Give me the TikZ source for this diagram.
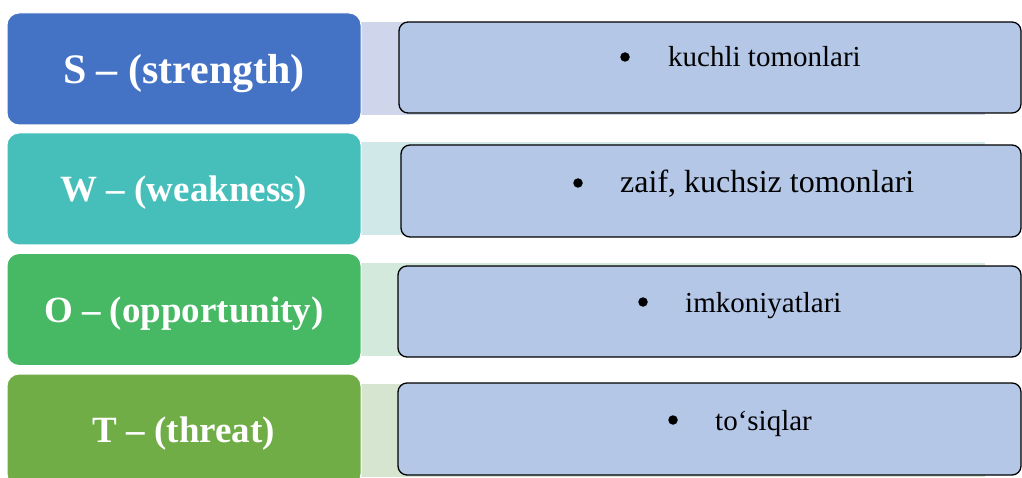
\documentclass[tikz,border=0pt]{standalone}
\usepackage{fontspec}
\setmainfont{Liberation Serif}
\newfontfamily\itemfont{Liberation Serif}
\definecolor{cS}{HTML}{4472C4}
\definecolor{cW}{HTML}{46BFBA}
\definecolor{cO}{HTML}{47B863}
\definecolor{cT}{HTML}{70AD47}
\definecolor{sS}{HTML}{CFD5EA}
\definecolor{sW}{HTML}{D1E8E9}
\definecolor{sO}{HTML}{D3E9DB}
\definecolor{sT}{HTML}{D6E5D0}
\definecolor{rfill}{HTML}{B4C7E7}
\begin{document}
\begin{tikzpicture}[x=1pt,y=-1pt,
  lbox/.style={rectangle, rounded corners=12pt, draw=white, line width=1pt,
    minimum width=354pt, minimum height=112pt, text=white, text depth=0pt,
    inner sep=0pt, font=\bfseries\fontsize{37}{40}\selectfont},
  strip/.style={rectangle, minimum width=630pt, minimum height=93pt, inner sep=0pt},
  rbox/.style={rectangle, rounded corners=9pt, draw=black, line width=1.3pt,
    fill=rfill, inner sep=0pt},
  item/.style={anchor=base west, inner sep=0pt, font=\itemfont\fontsize{29}{32}\selectfont},
  dot/.style={circle, fill=black, inner sep=0pt, minimum size=9.5pt}]
\useasboundingbox (0,0) rectangle (1022,478);
\clip (0,0) rectangle (1022,478);
% background strips
\node[strip, fill=sS] (stS) at (670,68.5) {};
\node[strip, fill=sW] (stW) at (670,189) {};
\node[strip, fill=sO] (stO) at (670,309.5) {};
\node[strip, fill=sT] (stT) at (670,430) {};
% left label boxes
\node[lbox, fill=cS, font=\bfseries\fontsize{42}{46}\selectfont] (S) at (184,69) {S – (strength)};
\node[lbox, fill=cW] (W) at (184,189) {W – (weakness)};
\node[lbox, fill=cO] (O) at (184,309.5) {O – (opportunity)};
\node[lbox, fill=cT] (T) at (184,430) {T – (threat)};
% right boxes
\node[rbox, minimum width=622pt, minimum height=91pt] (rS) at (710,67.5) {};
\node[rbox, minimum width=620pt, minimum height=92pt] (rW) at (711,191) {};
\node[rbox, minimum width=623pt, minimum height=91pt] (rO) at (709.5,311.5) {};
\node[rbox, minimum width=623pt, minimum height=92pt] (rT) at (709.5,429) {};
% bullets
\node[dot] (bS) at (625,57) {};
\node[dot] (bW) at (578,183) {};
\node[dot] (bO) at (643,302) {};
\node[dot] (bT) at (673,420) {};
% items
\node[item] (iS) at (668,67) {kuchli tomonlari};
\node[item, font=\itemfont\fontsize{32}{35}\selectfont] (iW) at (620,193) {zaif, kuchsiz tomonlari};
\node[item] (iO) at (685,312) {imkoniyatlari};
\node[item] (iT) at (715,430) {to‘siqlar};
\end{tikzpicture}
\end{document}
